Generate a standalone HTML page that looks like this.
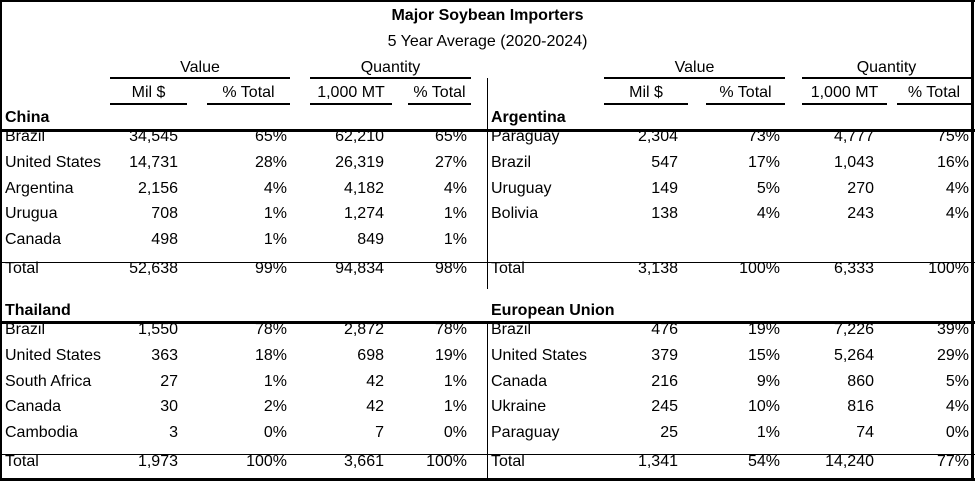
<!DOCTYPE html>
<html><head><meta charset="utf-8"><style>
body{margin:0;background:#fff;}
#t{position:relative;width:975px;height:481px;overflow:hidden;font-family:"Liberation Sans",sans-serif;font-size:16px;color:#000;background:#fff;}
.a{position:absolute;white-space:nowrap;line-height:18px;}
.r{text-align:right;}
.b{font-weight:bold;}
.l{position:absolute;background:#000;}
</style></head><body>
<div id="t">
<div class="l" style="left:0;top:0;width:975px;height:2px"></div>
<div class="l" style="left:0;top:0;width:2px;height:481px"></div>
<div class="l" style="left:971px;top:0;width:3px;height:481px"></div>
<div class="l" style="left:0;top:478px;width:975px;height:3px"></div>
<div class="a b" style="left:0;width:975px;text-align:center;top:7px">Major Soybean Importers</div>
<div class="a" style="left:0;width:975px;text-align:center;top:33px">5 Year Average (2020-2024)</div>
</div>
<script>
const leftCountries=[["China",["Brazil","United States","Argentina","Urugua","Canada"]],["Thailand",["Brazil","United States","South Africa","Canada","Cambodia"]]];
const rightCountries=[["Argentina",["Paraguay","Brazil","Uruguay","Bolivia"]],["European Union",["Brazil","United States","Canada","Ukraine","Paraguay"]]];
const chinaVals=[["34,545","65%","62,210","65%"],["14,731","28%","26,319","27%"],["2,156","4%","4,182","4%"],["708","1%","1,274","1%"],["498","1%","849","1%"]];
const chinaTotal=["52,638","99%","94,834","98%"];
const thaiVals=[["1,550","78%","2,872","78%"],["363","18%","698","19%"],["27","1%","42","1%"],["30","2%","42","1%"],["3","0%","7","0%"]];
const thaiTotal=["1,973","100%","3,661","100%"];
const argVals=[["2,304","73%","4,777","75%"],["547","17%","1,043","16%"],["149","5%","270","4%"],["138","4%","243","4%"]];
const argTotal=["3,138","100%","6,333","100%"];
const euVals=[["476","19%","7,226","39%"],["379","15%","5,264","29%"],["216","9%","860","5%"],["245","10%","816","4%"],["25","1%","74","0%"]];
const euTotal=["1,341","54%","14,240","77%"];
const T=document.getElementById('t');
function txt(s,x,y,w,cls,name){const d=document.createElement('div');d.className='a '+cls;d.style.left=x+'px';d.style.top=y+'px';if(w)d.style.width=w+'px';d.textContent=s;


T.appendChild(d);}
function line(x,y,w,h,name){const d=document.createElement('div');d.className='l';d.style.cssText='left:'+x+'px;top:'+y+'px;width:'+w+'px;height:'+h+'px';


T.appendChild(d);}
// header blocks
const heads=[{x0:110,cols:[[110,187],[207,290],[310,392],[408,471]],side:'left'},{cols:[[604,688],[706,785],[802,887],[897,971]],side:'right'}];
heads.forEach(h=>{const c=h.cols;
txt('Value',c[0][0],59,c[1][1]-c[0][0],'','value-header-'+h.side);T.lastChild.style.textAlign='center';
txt('Quantity',c[2][0],59,c[3][1]-c[2][0],'','quantity-header-'+h.side);T.lastChild.style.textAlign='center';
line(c[0][0],77,c[1][1]-c[0][0],2,'value-underline-'+h.side);
line(c[2][0],77,c[3][1]-c[2][0],2,'quantity-underline-'+h.side);
const sub=['Mil $','% Total','1,000 MT','% Total'];
sub.forEach((s,i)=>{txt(s,c[i][0],84,c[i][1]-c[i][0],'','subheader-'+h.side+'-'+i);T.lastChild.style.textAlign='center';line(c[i][0],103,c[i][1]-c[i][0],2,'subheader-underline-'+h.side+'-'+i);});
});
const leftR=[178,287,384,467],rightR=[678,780,874,969];
const rowStep=25.8;
function block(title,names,vals,total,lx,rr,topTitle,side){
 txt(title,lx,topTitle,0,'b','section-title-'+title.toLowerCase().replace(/ /g,'-'));
 names.forEach((n,i)=>{const y=topTitle+19+i*rowStep;
  txt(n,lx,y,0,'','row-label-'+n.toLowerCase().replace(/ /g,'-'));
  vals[i].forEach((v,j)=>{txt(v,rr[j]-100,y,100,'r','cell-'+j);});
 });
 const ty=topTitle+19+5*rowStep+3;
 txt('Total',lx,ty,0,'','total-label');
 total.forEach((v,j)=>{txt(v,rr[j]-100,ty,100,'r','total-cell-'+j);});
}
block('China',leftCountries[0][1],chinaVals,chinaTotal,5,leftR,109,'l');
block('Thailand',leftCountries[1][1],thaiVals,thaiTotal,5,leftR,302,'l');
block('Argentina',rightCountries[0][1],argVals,argTotal,491,rightR,109,'r');
block('European Union',rightCountries[1][1],euVals,euTotal,491,rightR,302,'r');
line(0,129,975,3,'china-header-rule');
line(0,262,975,1,'upper-total-rule');
line(0,321,975,3,'thailand-header-rule');
line(0,454,975,1,'lower-total-rule');
line(487,78,1,211,'upper-divider');
line(487,321,1,160,'lower-divider');
</script>
</body></html>
